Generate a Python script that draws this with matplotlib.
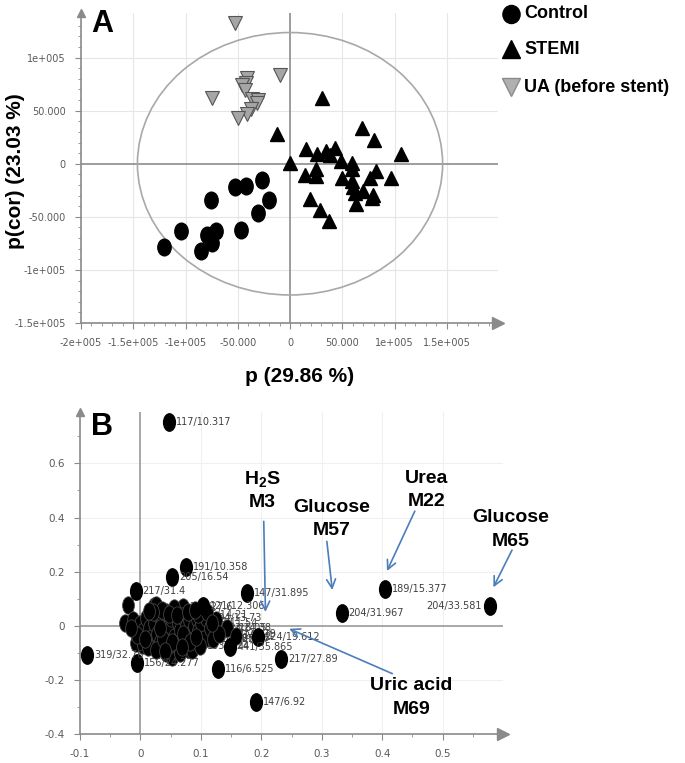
import matplotlib
matplotlib.use('Agg')
import matplotlib.pyplot as plt
import matplotlib.patches as mpatches
from matplotlib.path import Path
from matplotlib.transforms import Affine2D

plt.rcParams['mathtext.fontset'] = 'custom'
plt.rcParams['mathtext.rm'] = 'Liberation Sans:bold'
plt.rcParams['mathtext.bf'] = 'Liberation Sans:bold'

# ---------------- Panel A: score plot (values x1000) ----------------
control_x = [-53, -42, -27, -76, -20, -31, -47, -104, -71, -79, -75, -85, -121]
control_y = [-22, -21, -15, -34, -34, -46, -62, -63, -63, -67, -75, -82, -78]

stemi_x = [-12, 0, 31, 69, 80, 106, 15, 26, 34, 38, 43, 49, 59, 59, 25, 14,
           25, 50, 59, 82, 77, 97, 60, 70, 79, 19, 29, 37, 63, 78, 62]
stemi_y = [28, 1, 62, 34, 22, 9, 14, 9, 12, 8, 15, 3, 1, -5, -5, -11,
           -12, -13, -16, -7, -13, -13, -22, -26, -29, -33, -44, -54, -38, -32, -28]

ua_x = [-53, -10, -75, -41, -42, -46, -43, -36, -31, -32, -37, -41, -50]
ua_y = [133, 84, 62, 81, 76, 74, 69, 61, 60, 57, 52, 47, 43]

a_xticks = [-200000, -150000, -100000, -50000, 0, 50000, 100000, 150000]
a_xlabels = ['-2e+005', '-1.5e+005', '-1e+005', '-50.000', '0', '50.000', '1e+005', '1.5e+005']
a_yticks = [-150000, -100000, -50000, 0, 50000, 100000]
a_ylabels = ['-1.5e+005', '-1e+005', '-50.000', '0', '50.000', '1e+005']

# ---------------- Panel B: loading plot ----------------
named_x = [0.048, 0.075, 0.053, -0.008, 0.177, -0.088, -0.005, 0.128, 0.192,
           0.233, 0.149, 0.194, 0.333, 0.405, 0.579, 0.103]
named_y = [0.752, 0.219, 0.180, 0.128, 0.122, -0.107, -0.137, -0.160, -0.280,
           -0.122, -0.078, -0.041, 0.048, 0.137, 0.074, 0.074]
named_lbl = ['117/10.317', '191/10.358', '205/16.54', '217/31.4', '147/31.895',
             '319/32.76', '156/24.277', '116/6.525', '147/6.92', '217/27.89',
             '441/35.865', '224/19.612', '204/31.967', '189/15.377', '204/33.581',
             '121/12.306']

cluster_x = [-0.020, -0.025, 0.023, 0.026, 0.070, 0.086, -0.007, 0.004, 0.043,
             0.053, 0.111, 0.144, 0.158, -0.012, 0.000, 0.005, 0.010, 0.015,
             0.018, 0.022, 0.028, 0.030, 0.033, 0.036, 0.040, 0.042, 0.045,
             0.048, 0.050, 0.055, 0.058, 0.060, 0.062, 0.065, 0.068, 0.072,
             0.075, 0.078, 0.080, 0.083, 0.088, 0.090, 0.093, 0.096, 0.100,
             0.105, 0.108, 0.115, 0.120, 0.012, 0.025, 0.065, 0.085, 0.098,
             -0.005, 0.035, 0.055, 0.125, 0.130, 0.008, 0.020, 0.038, 0.052,
             0.070, 0.082, 0.095, 0.110, 0.032, 0.047, 0.060, 0.078, 0.092,
             -0.015, 0.015, 0.040, 0.068, 0.090, 0.118]
cluster_y = [0.078, 0.011, 0.072, 0.078, 0.070, 0.040, -0.063, -0.070, -0.100,
             -0.115, -0.044, -0.007, -0.037, 0.020, 0.005, -0.020, 0.030, -0.010,
             -0.045, 0.010, -0.030, 0.040, -0.060, 0.015, -0.020, 0.050, -0.075,
             0.000, 0.030, -0.040, 0.055, -0.070, 0.010, -0.015, 0.035, -0.050,
             0.000, -0.085, 0.020, -0.030, 0.000, -0.060, 0.025, -0.020, 0.010,
             -0.050, 0.030, -0.010, -0.050, -0.080, -0.090, -0.100, -0.090, -0.075,
             -0.035, 0.060, 0.065, 0.020, -0.030, -0.050, 0.050, -0.050, -0.060,
             -0.030, -0.060, 0.045, 0.050, -0.010, 0.045, 0.040, 0.050, -0.040,
             -0.010, 0.055, -0.095, -0.080, 0.060, 0.010]
cluster_lbl = {1: '358/8.62', 4: '260/27.6', 5: '175/14.21', 10: '307/20.086',
               11: '3/24.38', 12: '2/26.1', 44: '218/11.54', 45: '333/9.87',
               46: '204/13.73', 47: '292/16.05', 48: '243/25.37', 53: '103/7.24',
               58: '217/22.79'}

b_xticks = [-0.1, 0, 0.1, 0.2, 0.3, 0.4, 0.5]
b_xlabels = ['-0.1', '0', '0.1', '0.2', '0.3', '0.4', '0.5']
b_yticks = [-0.4, -0.2, 0, 0.2, 0.4, 0.6]
b_ylabels = ['-0.4', '-0.2', '0', '0.2', '0.4', '0.6']

W, H = 685, 763
def fpos(x, y):
    return x / W, 1 - y / H

narrow = ['Liberation Sans Narrow', 'DejaVu Sans']
bold = ['Liberation Sans', 'DejaVu Sans']
axis_grey = '#8a8a8a'
tick_grey = '#5a5a5a'

def oval(ratio):
    return Path.unit_circle().transformed(Affine2D().scale(ratio, 1.0))

def style_axes(ax, xt, xl, yt, yl, xminor, yminor, size):
    for s in ['top', 'right']:
        ax.spines[s].set_visible(False)
    for s in ['left', 'bottom']:
        ax.spines[s].set_color(axis_grey)
        ax.spines[s].set_linewidth(1.2)
    ax.set_xticks(xt)
    ax.set_xticklabels(xl)
    ax.set_yticks(yt)
    ax.set_yticklabels(yl)
    ax.set_xticks(xminor, minor=True)
    ax.set_yticks(yminor, minor=True)
    ax.tick_params(which='major', length=4, color=axis_grey, labelcolor=tick_grey,
                   labelsize=size, pad=7)
    ax.tick_params(which='minor', length=2, color=axis_grey)
    for lab in ax.get_xticklabels() + ax.get_yticklabels():
        lab.set_family(narrow)
    ax.plot(1, 0, '>', transform=ax.transAxes, color=axis_grey, ms=8, clip_on=False)
    ax.plot(0, 1, '^', transform=ax.transAxes, color=axis_grey, ms=6, clip_on=False)

fig = plt.figure(figsize=(6.85, 7.63), dpi=100)

# ---------------- Panel A ----------------
axA = fig.add_axes([81 / W, 1 - 323 / H, 417 / W, 310 / H])
axA.set_xlim(-200000, 199000)
axA.set_ylim(-150000, 142000)
style_axes(axA, a_xticks, a_xlabels, a_yticks, a_ylabels,
           range(-200000, 190001, 10000), range(-150000, 140001, 10000), 7)

for t in a_xticks:
    if t not in (-200000, 0):
        axA.axvline(t, color='#e6e6e6', lw=0.8, zorder=0)
for t in a_yticks:
    if t not in (-150000, 0):
        axA.axhline(t, color='#e6e6e6', lw=0.8, zorder=0)
axA.axhline(0, color='#8c8c8c', lw=1.2, zorder=1)
axA.axvline(0, color='#8c8c8c', lw=1.2, zorder=1)
axA.add_patch(mpatches.Ellipse((0, 0), 2 * 146000, 2 * 123600, fill=False,
                               ec='#a8a8a8', lw=1.2, zorder=1))

axA.plot([v * 1000 for v in control_x], [v * 1000 for v in control_y], ls='none',
         marker=oval(0.8), ms=12, color='black', zorder=3)
axA.plot([v * 1000 for v in stemi_x], [v * 1000 for v in stemi_y], ls='none',
         marker='^', ms=10, color='black', zorder=3)
axA.plot([v * 1000 for v in ua_x], [v * 1000 for v in ua_y], ls='none',
         marker='v', ms=10, mfc='#a6a6a6', mec='#555555', mew=0.8, zorder=3)

fig.text(*fpos(102, 24), 'A', fontsize=22, fontweight='bold', family=bold,
         ha='center', va='center')
fig.text(*fpos(300, 377), 'p (29.86 %)', fontsize=15, fontweight='bold',
         family=bold, ha='center', va='center')
fig.text(*fpos(16, 171), 'p(cor) (23.03 %)', fontsize=15, fontweight='bold',
         family=bold, ha='center', va='center', rotation=90)

# legend
leg = [('Control', oval(0.95), 'black', 'black', 14),
       ('STEMI', '^', 'black', 'black', 49),
       ('UA (before stent)', 'v', '#b0b0b0', '#8a8a8a', 87)]
for name, mk, fc, ec, yy in leg:
    fig.add_artist(plt.Line2D([511 / W], [1 - yy / H], marker=mk, ms=13, mfc=fc,
                              mec=ec, ls='none', transform=fig.transFigure))
    fig.text(524 / W, 1 - yy / H, name, fontsize=13, fontweight='bold',
             family=bold, ha='left', va='center')

# ---------------- Panel B ----------------
axB = fig.add_axes([80 / W, 1 - 734 / H, 423 / W, 322 / H])
axB.set_xlim(-0.1, 0.6)
axB.set_ylim(-0.4, 0.79)
style_axes(axB, b_xticks, b_xlabels, b_yticks, b_ylabels,
           [-0.1 + 0.05 * i for i in range(14)], [-0.4 + 0.1 * i for i in range(12)], 7.5)

for t in [0.1, 0.2, 0.3, 0.4, 0.5]:
    axB.axvline(t, color='#f0f0f0', lw=0.8, zorder=0)
for t in [-0.2, 0.2, 0.4, 0.6]:
    axB.axhline(t, color='#f0f0f0', lw=0.8, zorder=0)
axB.axhline(0, color='#999999', lw=1.2, zorder=1)
axB.axvline(0, color='#999999', lw=1.2, zorder=1)

bmark = oval(0.68)
axB.plot(cluster_x, cluster_y, ls='none', marker=bmark, ms=12.5, mfc='black',
         mec='#444444', mew=0.6, zorder=3)
for i, lbl in cluster_lbl.items():
    axB.annotate(lbl, (cluster_x[i], cluster_y[i]), xytext=(5, 0),
                 textcoords='offset points', fontsize=7, color='#404040',
                 family=narrow, va='center', zorder=2)
axB.plot(named_x, named_y, ls='none', marker=bmark, ms=12.5, color='black', zorder=4)
for x, y, lbl in zip(named_x, named_y, named_lbl):
    left = lbl == '204/33.581'
    axB.annotate(lbl, (x, y), xytext=(-6 if left else 5, 0),
                 textcoords='offset points', fontsize=7, color='#404040',
                 family=narrow, va='center', ha='right' if left else 'left',
                 zorder=5)

arrow_col = '#4a7ebb'
notes = [('$\\mathbf{H_2S}$', 'M3', 0.202, 0.544, 0.456, (0.204, 0.396), (0.207, 0.041)),
         ('Glucose', 'M57', 0.317, 0.437, 0.352, (0.308, 0.322), (0.318, 0.122)),
         ('Urea', 'M22', 0.473, 0.544, 0.459, (0.456, 0.433), (0.406, 0.193)),
         ('Glucose', 'M65', 0.612, 0.400, 0.311, (0.617, 0.289), (0.582, 0.133)),
         ('Uric acid', 'M69', 0.448, -0.222, -0.311, (0.421, -0.181), (0.242, -0.007))]
for t1, t2, tx, ty1, ty2, start, tip in notes:
    axB.text(tx, ty1, t1, fontsize=14, fontweight='bold', family=bold,
             ha='center', va='center', clip_on=False, zorder=6)
    axB.text(tx, ty2, t2, fontsize=14, fontweight='bold', family=bold,
             ha='center', va='center', clip_on=False, zorder=6)
    axB.annotate('', xy=tip, xytext=start, annotation_clip=False, zorder=6,
                 arrowprops=dict(arrowstyle='->', color=arrow_col, lw=1.2,
                                 mutation_scale=16))

fig.text(*fpos(102, 427), 'B', fontsize=22, fontweight='bold', family=bold,
         ha='center', va='center')

fig.savefig('out.png', dpi=100)
